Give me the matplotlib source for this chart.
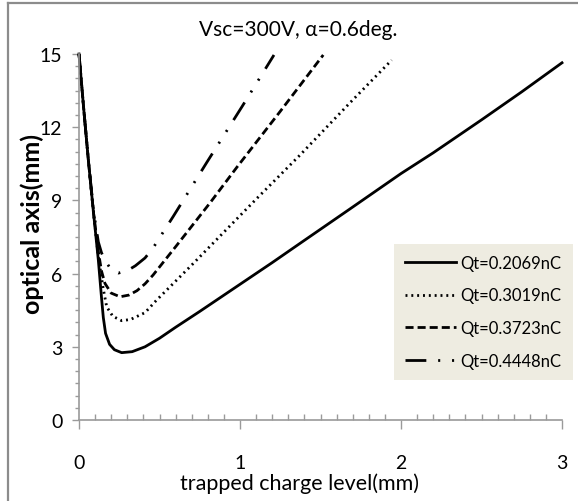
import matplotlib
matplotlib.use("Agg")
import matplotlib.pyplot as plt
import matplotlib.ticker as ticker
from matplotlib.lines import Line2D

# ---------------------------------------------------------------------------
# Data
# ---------------------------------------------------------------------------
x_q1 = [0.0, 0.03, 0.058, 0.09, 0.12, 0.14, 0.151, 0.165, 0.19, 0.22, 0.265,
        0.33, 0.41, 0.5, 0.6, 0.75, 0.948, 1.2, 1.373, 1.683, 2.0, 2.2, 2.5,
        2.75, 3.0]
y_q1 = [15.0, 12.7, 10.66, 8.5, 6.56, 5.0, 4.2, 3.55, 3.1, 2.88, 2.76,
        2.8, 3.0, 3.35, 3.8, 4.45, 5.33, 6.45, 7.24, 8.65, 10.1, 10.95, 12.3,
        13.45, 14.64]

x_q2 = [0.0, 0.03, 0.058, 0.09, 0.12, 0.15, 0.172, 0.21, 0.265, 0.32, 0.41,
        0.48, 0.565, 0.7, 0.9, 1.1, 1.373, 1.683, 1.942]
y_q2 = [15.0, 12.7, 10.66, 8.5, 6.7, 5.4, 4.64, 4.25, 4.07, 4.12, 4.4,
        4.9, 5.46, 6.35, 7.7, 9.05, 10.86, 13.0, 14.75]

x_q3 = [0.0, 0.03, 0.058, 0.09, 0.12, 0.14, 0.161, 0.2, 0.255, 0.31, 0.36,
        0.41, 0.46, 0.6, 0.814, 0.983, 1.25, 1.517]
y_q3 = [15.0, 12.7, 10.66, 8.5, 6.9, 6.1, 5.6, 5.2, 5.05, 5.12, 5.3,
        5.58, 5.94, 7.1, 8.9, 10.38, 12.65, 14.96]

x_q4 = [0.0, 0.03, 0.058, 0.09, 0.12, 0.14, 0.161, 0.2, 0.244, 0.3, 0.35,
        0.41, 0.46, 0.586, 0.793, 1.016, 1.211]
y_q4 = [15.0, 12.7, 10.66, 8.6, 7.3, 6.85, 6.56, 6.15, 6.02, 6.12, 6.32,
        6.64, 7.05, 8.35, 10.55, 12.88, 14.96]

labels = ["Qt=0.2069nC", "Qt=0.3019nC", "Qt=0.3723nC", "Qt=0.4448nC"]
x_ticks = [0, 1, 2, 3]
y_ticks = [0, 3, 6, 9, 12, 15]

# ---------------------------------------------------------------------------
# Style
# ---------------------------------------------------------------------------
FONT = ["Lato", "DejaVu Sans"]
plt.rcParams["font.family"] = FONT
plt.rcParams["lines.scale_dashes"] = False
GRAY = "#9a9a9a"

W, H = 578, 502
fig = plt.figure(figsize=(W / 100, H / 100), dpi=100)
ax = fig.add_axes([79 / W, 1 - 421 / H, (562 - 79) / W, (421 - 55) / H])

series = [
    (x_q1, y_q1, dict(linestyle="-")),
    (x_q2, y_q2, dict(linestyle=(0, (1.4, 2.8)))),
    (x_q3, y_q3, dict(linestyle=(0, (5.8, 2.9)))),
    (x_q4, y_q4, dict(linestyle=(0, (15, 8.5, 1.5, 8.5, 1.5, 8.5)))),
]
for (xs, ys, st), lab in zip(series, labels):
    ax.plot(xs, ys, color="black", linewidth=2.0, label=lab,
            dash_capstyle="butt", clip_on=False, **st)

ax.set_xlim(0, 3)
ax.set_ylim(0, 15)
for s in ("top", "right"):
    ax.spines[s].set_visible(False)
for s in ("left", "bottom"):
    ax.spines[s].set_color(GRAY)
    ax.spines[s].set_linewidth(1.2)

ax.set_xticks(x_ticks)
ax.set_yticks(y_ticks)
ax.xaxis.set_minor_locator(ticker.MultipleLocator(0.1))
ax.yaxis.set_minor_locator(ticker.MultipleLocator(0.5))
ax.tick_params(axis="x", which="major", direction="out", length=6.5,
               width=1, color=GRAY, pad=18, labelsize=14)
ax.tick_params(axis="x", which="minor", direction="in", length=4.5,
               width=1, color=GRAY)
ax.tick_params(axis="y", which="major", direction="out", length=5,
               width=1, color=GRAY, pad=7, labelsize=14)
ax.tick_params(axis="y", which="minor", direction="out", length=3,
               width=1, color=GRAY)

leg = ax.legend(loc="upper left", bbox_to_anchor=(394 / W, 1 - 245 / H),
                bbox_transform=fig.transFigure, borderaxespad=0,
                fontsize=12, frameon=True, fancybox=False,
                facecolor="#eeece1", edgecolor="none", framealpha=1,
                handlelength=3.05, handletextpad=0.3, labelspacing=1.0,
                borderpad=0.65)

fig.text(298 / W, 1 - 30 / H, "Vsc=300V, \u03b1=0.6deg.", ha="center",
         va="center", fontsize=15, family=FONT)
fig.text(299 / W, 1 - 484 / H, "trapped charge level(mm)", ha="center",
         va="center", fontsize=15.5, family=FONT)
fig.text(32 / W, 1 - 224 / H, "optical axis(mm)", ha="center", va="center",
         rotation=90, fontsize=18, fontweight="bold", family=FONT)

# outer chart border: only its left and top edges fall inside the picture
bx, by = 7.5 / W, 1 - 3.5 / H
fig.add_artist(Line2D([bx, bx], [0, by], transform=fig.transFigure,
                      color="#8c8c8c", linewidth=1.6))
fig.add_artist(Line2D([bx, 1], [by, by], transform=fig.transFigure,
                      color="#8c8c8c", linewidth=1.6))

fig.savefig("out.png", dpi=100)
